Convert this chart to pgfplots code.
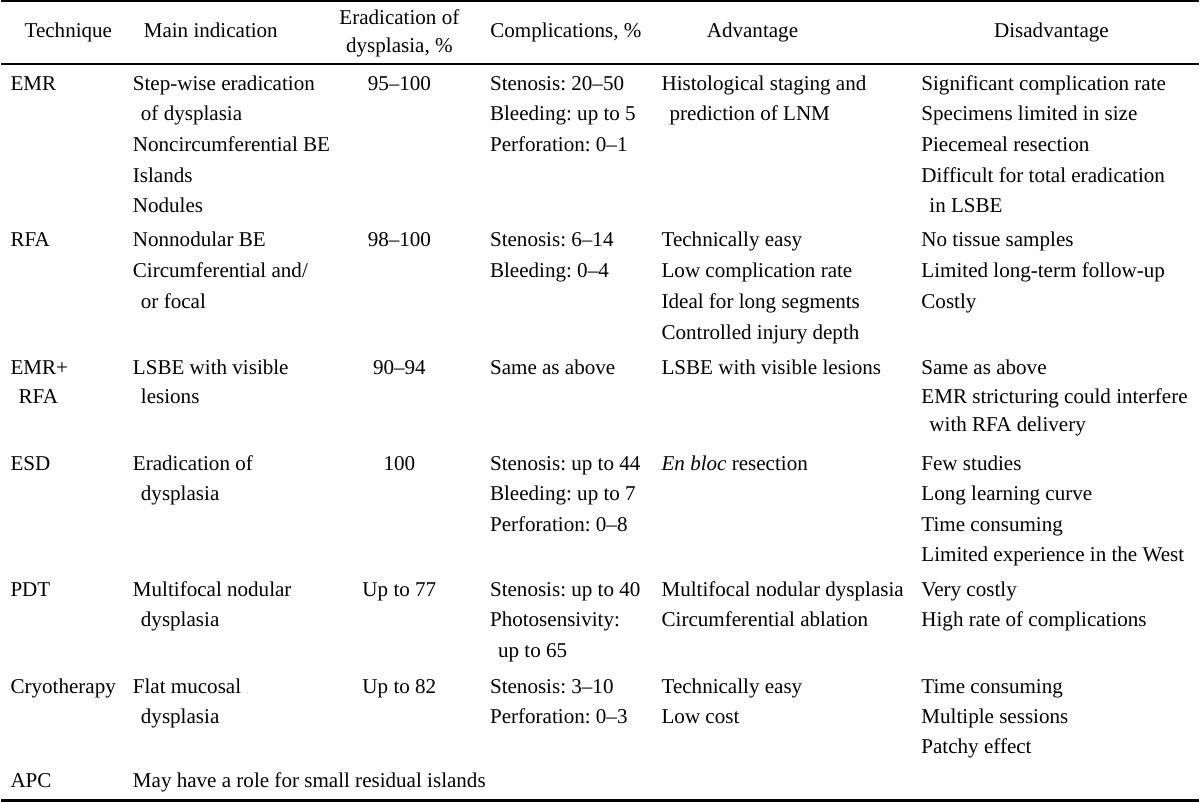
\documentclass[border=0pt]{standalone}
\usepackage{fontspec}
\setmainfont{Liberation Serif}
\usepackage{pgfplots}
\pgfplotsset{compat=1.18}
\frenchspacing
\newcommand{\T}[3]{\node[anchor=base west,inner sep=0pt] at (axis cs:#1,#2+6) {#3};}
\newcommand{\C}[3]{\node[anchor=base,inner sep=0pt] at (axis cs:#1,#2+6) {#3};}
\begin{document}
\begin{tikzpicture}[font=\fontsize{10.5pt}{12pt}\selectfont]
\begin{axis}[scale only axis, width=600pt, height=402.5pt,
  xmin=0, xmax=1200, ymin=0, ymax=805, y dir=reverse,
  axis lines=none, ticks=none, clip=false]
% rules
\addplot[black, line width=1pt] coordinates {(3,4) (1197,4)};
\addplot[black, line width=1pt] coordinates {(3,67) (1197,67)};
\addplot[black, line width=1.1pt] coordinates {(3,801) (1197,801)};
% header
\C{70}{34}{Technique}
\C{212}{34}{Main indication}
\C{400}{21}{Eradication of}
\C{400}{49}{dysplasia, \%}
\C{566}{34}{Complications, \%}
\C{752}{34}{Advantage}
\C{1050}{34}{Disadvantage}
% EMR
\T{12}{87}{EMR}
\T{134}{87}{Step-wise eradication}
\T{142}{117}{of dysplasia}
\T{134}{148}{Noncircumferential BE}
\T{134}{179}{Islands}
\T{134}{209}{Nodules}
\C{400}{87}{95–100}
\T{490}{87}{Stenosis: 20–50}
\T{490}{117}{Bleeding: up to 5}
\T{490}{148}{Perforation: 0–1}
\T{661}{87}{Histological staging and}
\T{669}{117}{prediction of LNM}
\T{920}{87}{Significant complication rate}
\T{920}{117}{Specimens limited in size}
\T{920}{148}{Piecemeal resection}
\T{920}{179}{Difficult for total eradication}
\T{928}{209}{in LSBE}
% RFA
\T{12}{243}{RFA}
\T{134}{243}{Nonnodular BE}
\T{134}{274}{Circumferential and/}
\T{142}{305}{or focal}
\C{400}{243}{98–100}
\T{490}{243}{Stenosis: 6–14}
\T{490}{274}{Bleeding: 0–4}
\T{661}{243}{Technically easy}
\T{661}{274}{Low complication rate}
\T{661}{305}{Ideal for long segments}
\T{661}{335}{Controlled injury depth}
\T{920}{243}{No tissue samples}
\T{920}{274}{Limited long-term follow-up}
\T{920}{305}{Costly}
% EMR+RFA
\T{12}{370}{EMR+}
\T{20}{399}{RFA}
\T{134}{370}{LSBE with visible}
\T{142}{399}{lesions}
\C{400}{370}{90–94}
\T{490}{370}{Same as above}
\T{661}{370}{LSBE with visible lesions}
\T{920}{370}{Same as above}
\T{920}{399}{EMR stricturing could interfere}
\T{928}{427}{with RFA delivery}
% ESD
\T{12}{466}{ESD}
\T{134}{466}{Eradication of}
\T{142}{496}{dysplasia}
\C{400}{466}{100}
\T{490}{466}{Stenosis: up to 44}
\T{490}{496}{Bleeding: up to 7}
\T{490}{527}{Perforation: 0–8}
\T{661}{466}{\textit{En bloc} resection}
\T{920}{466}{Few studies}
\T{920}{496}{Long learning curve}
\T{920}{527}{Time consuming}
\T{920}{557}{Limited experience in the West}
% PDT
\T{12}{592}{PDT}
\T{134}{592}{Multifocal nodular}
\T{142}{622}{dysplasia}
\C{400}{592}{Up to 77}
\T{490}{592}{Stenosis: up to 40}
\T{490}{622}{Photosensivity:}
\T{498}{652}{up to 65}
\T{661}{592}{Multifocal nodular dysplasia}
\T{661}{622}{Circumferential ablation}
\T{920}{592}{Very costly}
\T{920}{622}{High rate of complications}
% Cryotherapy
\T{12}{688}{Cryotherapy}
\T{134}{688}{Flat mucosal}
\T{142}{718}{dysplasia}
\C{400}{688}{Up to 82}
\T{490}{688}{Stenosis: 3–10}
\T{490}{718}{Perforation: 0–3}
\T{661}{688}{Technically easy}
\T{661}{718}{Low cost}
\T{920}{688}{Time consuming}
\T{920}{718}{Multiple sessions}
\T{920}{748}{Patchy effect}
% APC
\T{12}{782}{APC}
\T{134}{782}{May have a role for small residual islands}
\end{axis}
\end{tikzpicture}
\end{document}
